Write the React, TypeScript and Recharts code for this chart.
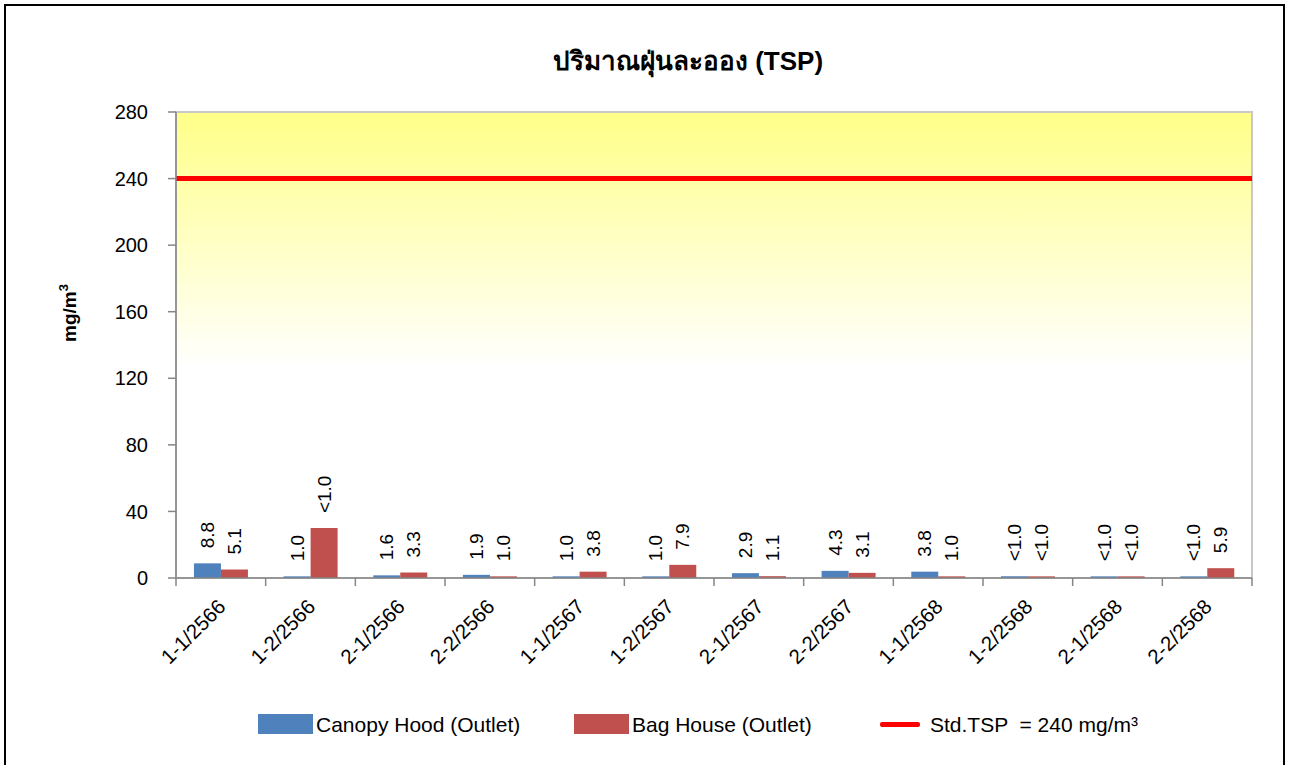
import React from "react";
import {
  ComposedChart,
  Bar,
  XAxis,
  YAxis,
  CartesianGrid,
  ReferenceLine,
  ReferenceArea,
  Legend,
} from "recharts";

const categories = [
  "1-1/2566", "1-2/2566", "2-1/2566", "2-2/2566",
  "1-1/2567", "1-2/2567", "2-1/2567", "2-2/2567",
  "1-1/2568", "1-2/2568", "2-1/2568", "2-2/2568",
];
const canopyValues = [8.8, 1.0, 1.6, 1.9, 1.0, 1.0, 2.9, 4.3, 3.8, 1.0, 1.0, 1.0];
const bagValues = [5.1, 30, 3.3, 1.0, 3.8, 7.9, 1.1, 3.1, 1.0, 1.0, 1.0, 5.9];
const canopyLabels = ["8.8", "1.0", "1.6", "1.9", "1.0", "1.0", "2.9", "4.3", "3.8", "<1.0", "<1.0", "<1.0"];
const bagLabels = ["5.1", "<1.0", "3.3", "1.0", "3.8", "7.9", "1.1", "3.1", "1.0", "<1.0", "<1.0", "5.9"];
const yTicks = [0, 40, 80, 120, 160, 200, 240, 280];
const stdValue = 240;
const seriesNames = ["Canopy Hood (Outlet)", "Bag House (Outlet)", "Std.TSP  = 240 mg/m³"];
const title = "ปริมาณฝุ่นละออง (TSP)";

const data = categories.map((c, i) => ({
  name: c,
  canopy: canopyValues[i],
  bag: bagValues[i],
}));

const FONT = "'Liberation Sans', Arial, sans-serif";
const BLUE = "#4F81BD";
const RED = "#C0504D";

const W = 1293;
const H = 765;
const MARGIN = { top: 112, right: 41, bottom: 67, left: 76 };
const Y_AXIS_W = 100;
const PLOT_W = W - MARGIN.left - MARGIN.right - Y_AXIS_W;
const BAND = PLOT_W / categories.length;

const makeLabel = (labels: string[]) => (props: any) => {
  const { x, y, width, index } = props;
  const cx = Number(x) + Number(width) / 2;
  const ty = Number(y) - 15;
  return (
    <text
      x={cx}
      y={ty}
      transform={`rotate(-90, ${cx}, ${ty})`}
      textAnchor="start"
      dominantBaseline="central"
      fontFamily={FONT}
      fontSize={19}
      fill="#000"
    >
      {labels[index]}
    </text>
  );
};

const XTick = (props: any) => {
  const { x, y, payload, index } = props;
  const left = x - BAND / 2;
  const right = x + BAND / 2;
  const tx = x + 6;
  const ty = y + 22;
  return (
    <g>
      <line x1={left} x2={left} y1={y - 8} y2={y} stroke="#868686" strokeWidth={1.5} />
      {index === categories.length - 1 && (
        <line x1={right} x2={right} y1={y - 8} y2={y} stroke="#868686" strokeWidth={1.5} />
      )}
      <text
        x={tx}
        y={ty}
        transform={`rotate(-45, ${tx}, ${ty})`}
        textAnchor="end"
        fontFamily={FONT}
        fontSize={20.5}
        fill="#000"
      >
        {payload.value}
      </text>
    </g>
  );
};

const YLabel = (props: any) => {
  const vb = props.viewBox || {};
  const cx = 76;
  const cy = vb.y + vb.height / 2 - 32;
  return (
    <text
      x={cx}
      y={cy}
      transform={`rotate(-90, ${cx}, ${cy})`}
      textAnchor="middle"
      fontFamily={FONT}
      fontSize={19}
      fontWeight="bold"
      fill="#000"
    >
      mg/m
      <tspan dy={-8} fontSize={13}>3</tspan>
    </text>
  );
};

const LegendContent = () => {
  const textStyle: React.CSSProperties = {
    position: "absolute",
    top: 2,
    fontFamily: FONT,
    fontSize: 21,
    color: "#000",
    lineHeight: "40px",
    whiteSpace: "pre",
  };
  return (
    <div style={{ position: "relative", width: W, height: 40 }}>
      <div style={{ position: "absolute", left: 258, top: 11, width: 55, height: 20, background: BLUE }} />
      <div style={{ ...textStyle, left: 316 }}>{seriesNames[0]}</div>
      <div style={{ position: "absolute", left: 574, top: 11, width: 55, height: 20, background: RED }} />
      <div style={{ ...textStyle, left: 632 }}>{seriesNames[1]}</div>
      <div style={{ position: "absolute", left: 880, top: 19, width: 40, height: 5, background: "#FF0000", borderRadius: 2 }} />
      <div style={{ ...textStyle, left: 930 }}>{seriesNames[2]}</div>
    </div>
  );
};

export default function App() {
  return (
    <div style={{ position: "absolute", left: 0, top: 0, width: W, height: H, background: "#fff" }}>
      <div
        style={{
          position: "absolute",
          left: 4,
          top: 4,
          width: 1281,
          height: 761,
          borderTop: "2px solid #000",
          borderLeft: "2px solid #000",
          borderRight: "2px solid #000",
          boxSizing: "border-box",
        }}
      />
      <div
        style={{
          position: "absolute",
          left: 0,
          top: 40,
          width: 1376,
          textAlign: "center",
          fontFamily: FONT,
          fontWeight: "bold",
          fontSize: 26,
          color: "#000",
          zIndex: 2,
        }}
      >
        {title}
      </div>
      <ComposedChart
        width={W}
        height={H}
        data={data}
        margin={MARGIN}
        barCategoryGap="20%"
        barGap={0}
      >
        <defs>
          <linearGradient id="bgGrad" x1="0" y1="0" x2="0" y2="1">
            <stop offset="0%" stopColor="#FFFF88" />
            <stop offset="55%" stopColor="#FFFFFF" />
            <stop offset="100%" stopColor="#FFFFFF" />
          </linearGradient>
        </defs>
        <ReferenceArea y1={0} y2={280} fill="url(#bgGrad)" fillOpacity={1} stroke="#C8C8C8" strokeWidth={2} ifOverflow="visible" />
        <CartesianGrid vertical={false} stroke="#D9D9D9" strokeWidth={1.5} />
        <XAxis
          dataKey="name"
          height={120}
          tick={<XTick />}
          tickLine={false}
          tickSize={8}
          tickMargin={0}
          interval={0}
          axisLine={{ stroke: "#868686", strokeWidth: 1.5 }}
        />
        <YAxis
          width={Y_AXIS_W}
          domain={[0, 280]}
          ticks={yTicks}
          interval={0}
          tickSize={8}
          tickMargin={20}
          tick={{ fontFamily: FONT, fontSize: 20, fill: "#000" }}
          tickLine={{ stroke: "#868686", strokeWidth: 1.5 }}
          axisLine={{ stroke: "#868686", strokeWidth: 1.5 }}
          label={<YLabel />}
        />
        <Bar dataKey="canopy" fill={BLUE} isAnimationActive={false} label={makeLabel(canopyLabels)} />
        <Bar dataKey="bag" fill={RED} isAnimationActive={false} label={makeLabel(bagLabels)} />
        <ReferenceLine y={stdValue} stroke="#FF0000" strokeWidth={5} />
        <Legend
          verticalAlign="middle"
          align="center"
          layout="horizontal"
          content={<LegendContent />}
          wrapperStyle={{ top: 703, left: 0, width: W, height: 40 }}
        />
      </ComposedChart>
    </div>
  );
}
